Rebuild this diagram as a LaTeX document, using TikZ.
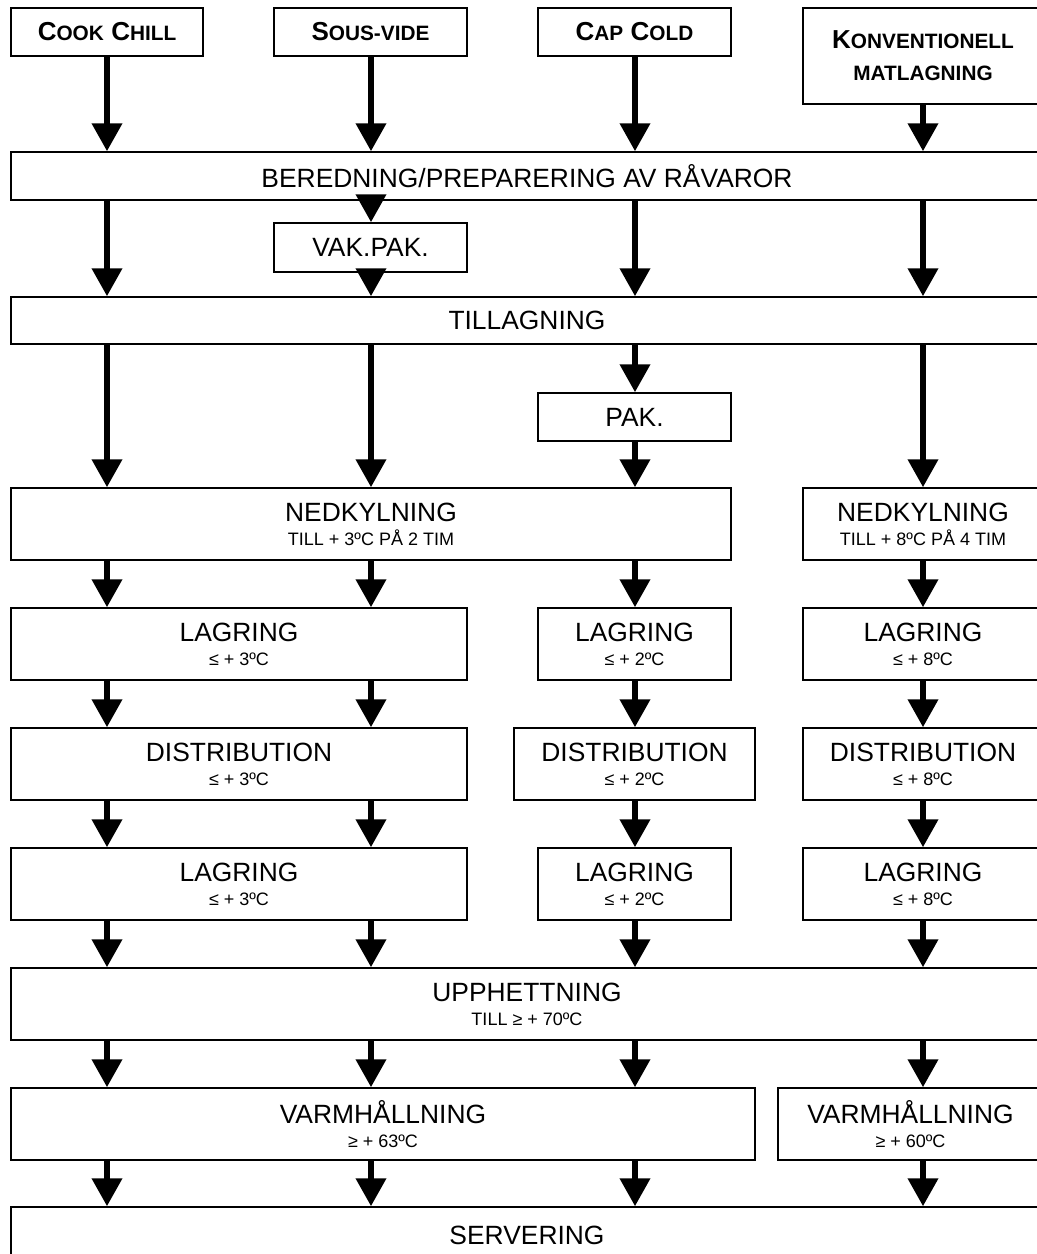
\documentclass[tikz,border=0pt]{standalone}
\usepackage{fontspec}
\setmainfont{Liberation Sans}
\usepackage{tikz}
\usetikzlibrary{arrows.meta, positioning}

\newcommand{\bigtxt}{\fontsize{19.8}{17}\selectfont}
\newcommand{\smalltxt}{\fontsize{13.5}{17}\selectfont}
\newcommand{\hdsc}[2]{{\fontsize{19.5}{25}\selectfont #1}{\fontsize{15.6}{25}\selectfont #2}}

\begin{document}
\begin{tikzpicture}[x=0.75pt, y=-0.75pt,
    box/.style={draw, line width=1.1pt, inner sep=0pt, align=center, font=\bigtxt},
    hbox/.style={box, font={\bigtxt\bfseries}},
    sz/.style 2 args={minimum width=#1*0.75pt, minimum height=#2*0.75pt},
    arr/.style={line width=4.5pt, -{Triangle[width=22pt, length=21pt]}}]
    \useasboundingbox (0,0) rectangle (1037,1254);
    \clip (0,0) rectangle (1037,1254);
    % kolumner
    \coordinate (c1) at (107,0);
    \coordinate (c2) at (371,0);
    \coordinate (c3) at (635,0);
    \coordinate (c4) at (923,0);
    % metoder
    \node[hbox, sz={192}{48}] (cook) at (107,32) {\hdsc{C}{OOK} \hdsc{C}{HILL}};
    \node[hbox, sz={193}{48}] (sous) at (370.5,32) {\hdsc{S}{OUS-VIDE}};
    \node[hbox, sz={193}{48}] (cap) at (634.5,32) {\hdsc{C}{AP} \hdsc{C}{OLD}};
    \node[hbox, sz={240}{96}] (konv) at (923,56) {\hdsc{K}{ONVENTIONELL}\\[7pt]\hdsc{}{MATLAGNING}};
    % gemensamma steg
    \node[box, sz={1032}{48}] (ber) at (527,176) {BEREDNING/PREPARERING AV RÅVAROR};
    \node[box, sz={193}{49}] (vak) at (370.5,247.5) {VAK.PAK.};
    \node[box, sz={1032}{47}] (till) at (527,320.5) {TILLAGNING};
    \node[box, sz={193}{48}] (pak) at (634.5,417) {PAK.};
    \node[box, sz={720}{72}] (nedL) at (371,524) {NEDKYLNING\\[1pt]{\smalltxt TILL + 3ºC PÅ 2 TIM}};
    \node[box, sz={240}{72}] (nedR) at (923,524) {NEDKYLNING\\[1pt]{\smalltxt TILL + 8ºC PÅ 4 TIM}};
    % lagring och distribution
    \foreach \nm/\txt/\y/\wm in {lagA/LAGRING/644/193, dis/DISTRIBUTION/764/241, lagB/LAGRING/884/193} {
        \node[box, sz={456}{72}] (\nm L) at (239,\y) {\txt\\[1pt]{\smalltxt ≤ + 3ºC}};
        \node[box, sz={\wm}{72}] (\nm M) at (634.5,\y) {\txt\\[1pt]{\smalltxt ≤ + 2ºC}};
        \node[box, sz={240}{72}] (\nm R) at (923,\y) {\txt\\[1pt]{\smalltxt ≤ + 8ºC}};
    }
    \node[box, sz={1032}{72}] (upp) at (527,1004) {UPPHETTNING\\[1pt]{\smalltxt TILL ≥ + 70ºC}};
    \node[box, sz={744}{72}] (varL) at (383,1124) {VARMHÅLLNING\\[1pt]{\smalltxt ≥ + 63ºC}};
    \node[box, sz={265}{72}] (varR) at (910.5,1124) {VARMHÅLLNING\\[1pt]{\smalltxt ≥ + 60ºC}};
    \node[box, sz={1032}{56}] (serv) at (527,1235) {SERVERING};
    % pilar
    \foreach \a/\b/\c in {cook/ber/c1, sous/ber/c2, cap/ber/c3, konv/ber/c4,
        ber/till/c1, ber/vak/c2, vak/till/c2, ber/till/c3, ber/till/c4,
        till/nedL/c1, till/nedL/c2, till/pak/c3, pak/nedL/c3, till/nedR/c4,
        nedL/lagAL/c1, nedL/lagAL/c2, nedL/lagAM/c3, nedR/lagAR/c4,
        lagAL/disL/c1, lagAL/disL/c2, lagAM/disM/c3, lagAR/disR/c4,
        disL/lagBL/c1, disL/lagBL/c2, disM/lagBM/c3, disR/lagBR/c4,
        lagBL/upp/c1, lagBL/upp/c2, lagBM/upp/c3, lagBR/upp/c4,
        upp/varL/c1, upp/varL/c2, upp/varL/c3, upp/varR/c4,
        varL/serv/c1, varL/serv/c2, varL/serv/c3, varR/serv/c4} {
        \draw[arr] (\a.south -| \c) -- (\b.north -| \c);
    }
\end{tikzpicture}
\end{document}
